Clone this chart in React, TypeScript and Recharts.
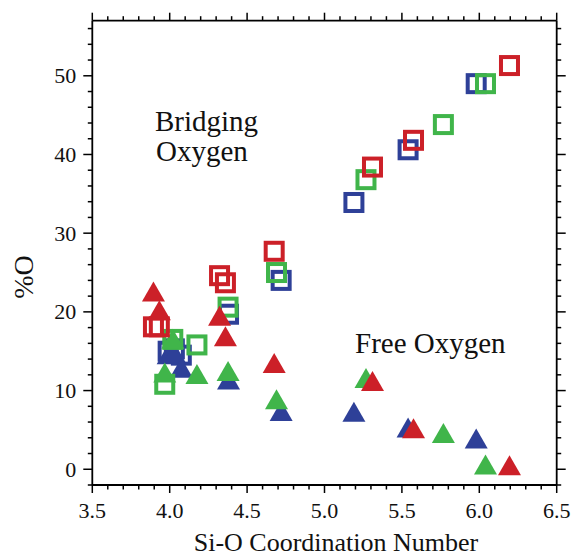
import React from "react";
import { ScatterChart, Scatter, XAxis, YAxis, Customized } from "recharts";

document.body.style.margin = "0";

// Si-O coordination number per run, one list per colour
const blueCoord = [3.99, 4.03, 4.075, 4.38, 4.72, 5.19, 5.54, 5.98];
const blueBridging = [15.0, 15.3, 14.5, 19.7, 24.0, 33.9, 40.6, 49.0];
const blueFree = [14.6, 14.8, 12.9, 11.4, 7.4, 7.3, 5.3, 3.9];

const greenCoord = [3.968, 4.02, 4.176, 4.377, 4.69, 5.268, 5.768, 6.04];
const greenBridging = [10.8, 16.5, 15.8, 20.6, 25.0, 36.8, 43.8, 49.0];
const greenFree = [12.3, 16.6, 12.1, 12.5, 8.9, 11.6, 4.6, 0.6];

const redCoord = [3.895, 3.933, 4.322, 4.36, 4.675, 5.31, 5.575, 6.195];
const redBridging = [18.1, 18.1, 24.6, 23.7, 27.7, 38.4, 41.8, 51.3];
const redFree = [22.6, 20.2, 19.5, 16.9, 13.5, 11.2, 5.2, 0.5];

const xMajor = [3.5, 4.0, 4.5, 5.0, 5.5, 6.0, 6.5];
const yMajor = [0, 10, 20, 30, 40, 50];
const xTicks = Array.from({ length: 31 }, (_, i) => +(3.5 + i * 0.1).toFixed(1));
const yTicks = Array.from({ length: 30 }, (_, i) => -2 + i * 2);

const BLUE = "#2e4098";
const GREEN = "#40b54a";
const RED = "#cc2028";
const FONT = { fontFamily: "Times New Roman" };

const pts = (xs: number[], ys: number[]) => xs.map((x, i) => ({ x, y: ys[i] }));

const isMajorX = (v: number) => xMajor.some((m) => Math.abs(m - v) < 1e-6);
const isMajorY = (v: number) => yMajor.includes(v);

const square = (color: string) => (p: any) => (
  <rect x={p.cx - 8.5} y={p.cy - 8.5} width={17} height={17} fill="none" stroke={color} strokeWidth={4} />
);

const triangle = (color: string) => (p: any) => (
  <path d={`M${p.cx},${p.cy - 10} L${p.cx + 11.5},${p.cy + 10} L${p.cx - 11.5},${p.cy + 10} Z`} fill={color} />
);

const BottomTick = ({ x, y, payload }: any) => {
  const major = isMajorX(payload.value);
  return (
    <g>
      <line x1={x} x2={x} y1={y} y2={y + (major ? 8 : 4.5)} stroke="#000" strokeWidth={1.5} />
      {major && (
        <text x={x} y={y + 33} textAnchor="middle" fontSize={22} style={FONT} fill="#111">
          {payload.value.toFixed(1)}
        </text>
      )}
    </g>
  );
};

const TopTick = ({ x, y, payload }: any) => {
  const major = isMajorX(payload.value);
  return <line x1={x} x2={x} y1={y} y2={y - (major ? 8 : 4.5)} stroke="#000" strokeWidth={1.5} />;
};

const LeftTick = ({ x, y, payload }: any) => {
  const major = isMajorY(payload.value);
  return (
    <g>
      <line x1={x} x2={x - (major ? 9 : 4.5)} y1={y} y2={y} stroke="#000" strokeWidth={1.5} />
      {major && (
        <text x={x - 16} y={y + 7.5} textAnchor="end" fontSize={22} style={FONT} fill="#111">
          {payload.value}
        </text>
      )}
    </g>
  );
};

const RightTick = ({ x, y, payload }: any) => {
  const major = isMajorY(payload.value);
  return <line x1={x} x2={x + (major ? 9 : 4.5)} y1={y} y2={y} stroke="#000" strokeWidth={1.5} />;
};

const Annotations = () => (
  <g fill="#111">
    <text x={336} y={551} textAnchor="middle" fontSize={26} style={FONT}>Si-O Coordination Number</text>
    <text x={33} y={277} textAnchor="middle" fontSize={28} style={FONT} transform="rotate(-90 33 277)">%O</text>
    <text x={155} y={131} fontSize={29} style={FONT}>Bridging</text>
    <text x={156} y={161} fontSize={29} style={FONT}>Oxygen</text>
    <text x={355} y={353} fontSize={29} style={FONT}>Free Oxygen</text>
  </g>
);

const axisLine = { stroke: "#000", strokeWidth: 1.8 };

export default function App() {
  return (
    <div>
      <ScatterChart width={573} height={556} margin={{ top: 19.7, right: 15.3, bottom: 70, left: 91.3 }}>
        <XAxis
          xAxisId="b"
          type="number"
          dataKey="x"
          domain={[3.5, 6.5]}
          ticks={xTicks}
          interval={0}
          height={1}
          tickSize={0}
          tickMargin={0}
          axisLine={axisLine}
          tickLine={false}
          tick={<BottomTick />}
          allowDataOverflow
        />
        <XAxis
          xAxisId="t"
          orientation="top"
          type="number"
          dataKey="x"
          domain={[3.5, 6.5]}
          ticks={xTicks}
          interval={0}
          height={1}
          tickSize={0}
          tickMargin={0}
          axisLine={axisLine}
          tickLine={false}
          tick={<TopTick />}
          allowDataOverflow
        />
        <YAxis
          yAxisId="l"
          type="number"
          dataKey="y"
          domain={[-2, 57]}
          ticks={yTicks}
          interval={0}
          width={1}
          tickSize={0}
          tickMargin={0}
          axisLine={axisLine}
          tickLine={false}
          tick={<LeftTick />}
          allowDataOverflow
        />
        <YAxis
          yAxisId="r"
          orientation="right"
          type="number"
          dataKey="y"
          domain={[-2, 57]}
          ticks={yTicks}
          interval={0}
          width={1}
          tickSize={0}
          tickMargin={0}
          axisLine={axisLine}
          tickLine={false}
          tick={<RightTick />}
          allowDataOverflow
        />
        <Scatter xAxisId="b" yAxisId="l" data={pts(blueCoord, blueBridging)} shape={square(BLUE)} isAnimationActive={false} />
        <Scatter xAxisId="b" yAxisId="l" data={pts(blueCoord, blueFree)} shape={triangle(BLUE)} isAnimationActive={false} />
        <Scatter xAxisId="b" yAxisId="l" data={pts(greenCoord, greenBridging)} shape={square(GREEN)} isAnimationActive={false} />
        <Scatter xAxisId="b" yAxisId="l" data={pts(greenCoord, greenFree)} shape={triangle(GREEN)} isAnimationActive={false} />
        <Scatter xAxisId="b" yAxisId="l" data={pts(redCoord, redBridging)} shape={square(RED)} isAnimationActive={false} />
        <Scatter xAxisId="b" yAxisId="l" data={pts(redCoord, redFree)} shape={triangle(RED)} isAnimationActive={false} />
        <Customized component={<Annotations />} />
      </ScatterChart>
    </div>
  );
}
